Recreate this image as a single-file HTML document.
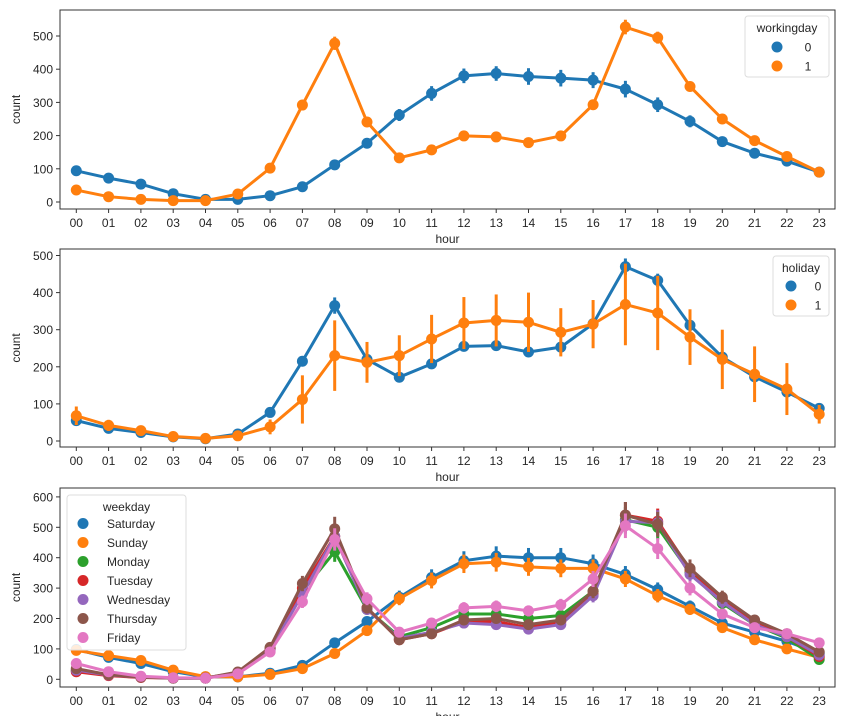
<!DOCTYPE html>
<html><head><meta charset="utf-8"><style>
body{margin:0;background:#fff;width:853px;height:716px;overflow:hidden}
svg text{font-family:"Liberation Sans","DejaVu Sans",sans-serif;fill:#262626}
</style></head><body>
<svg id="chart" width="853" height="716" xmlns="http://www.w3.org/2000/svg"></svg>
<script>
const hours=["00","01","02","03","04","05","06","07","08","09","10","11","12","13","14","15","16","17","18","19","20","21","22","23"];
const wd0=[94,72,54,25,8,8,19,46,112,177,262,327,380,387,378,373,367,340,293,243,182,147,123,90];
const wd1=[36,16,8,4,4,24,102,292,478,241,133,157,199,196,179,199,293,527,495,348,250,185,137,90];
const wd0Err=[8,6,5,4,2,2,3,6,10,12,18,22,22,22,25,25,24,25,22,18,15,12,10,8];
const wd1Err=[4,3,2,1,1,2,6,14,20,12,8,8,10,10,8,10,14,22,18,15,10,8,8,6];
const hol0=[55,34,23,11,6,19,77,215,365,220,172,208,255,257,240,253,316,470,433,312,226,173,132,88];
const hol1=[68,42,28,12,7,14,38,112,230,212,230,275,318,325,320,293,315,368,345,280,220,180,140,72];
const hol0Err=[5,4,3,2,1,2,5,12,22,12,8,10,10,10,10,10,12,22,18,12,10,8,6,6];
const hol1Err=[25,15,12,5,4,8,20,65,95,55,55,65,70,70,80,65,65,110,100,75,80,75,70,25];
const saturday=[98,72,52,25,8,8,20,46,120,190,270,335,390,405,400,400,380,345,295,240,185,155,125,85];
const sunday=[95,78,62,30,9,8,16,35,85,160,265,325,380,385,370,365,365,330,275,230,170,130,100,72];
const monday=[28,15,8,4,4,22,100,290,420,230,140,170,215,215,200,210,290,525,500,350,250,180,135,65];
const tuesday=[25,12,6,4,4,22,100,300,470,235,130,150,190,190,170,190,280,540,520,360,265,190,140,75];
const wednesday=[30,14,7,4,4,22,95,280,470,230,135,155,185,180,165,180,275,520,515,345,255,180,140,80];
const thursday=[35,15,7,4,4,24,105,315,495,235,130,150,195,200,180,195,290,540,510,365,270,195,150,90];
const friday=[52,25,10,5,4,18,90,255,460,265,155,185,235,240,225,245,330,505,430,300,215,170,150,120];
const weekdayNames=["Saturday","Sunday","Monday","Tuesday","Wednesday","Thursday","Friday"];
const yTicks1=[0,100,200,300,400,500];
const yTicks3=[0,100,200,300,400,500,600];

const NS="http://www.w3.org/2000/svg";
const svg=document.getElementById('chart');
function mk(tag,attrs,parent,txt){const e=document.createElementNS(NS,tag);for(const k in attrs)e.setAttribute(k,attrs[k]);if(txt!==undefined)e.textContent=txt;(parent||svg).appendChild(e);return e;}
const C=["#1f77b4","#ff7f0e","#2ca02c","#d62728","#9467bd","#8c564b","#e377c2"];
const L=60,R=835;
const xS=i=>76.3+i*32.3;

function panel(name,top,bottom,y0,pxPer100,ticks,series,errs,legend){
  const g=mk('g',{});
  
  
  const yS=v=>y0-v*pxPer100/100;
  ticks.forEach(t=>{
    const y=yS(t);
    mk('line',{x1:L-4,x2:L,y1:y,y2:y,stroke:'#333'},g);
    const tx=mk('text',{x:L-7,y:y+4.5,'text-anchor':'end','font-size':12},g,String(t));
    
    
  });
  hours.forEach((h,i)=>{
    const x=xS(i);
    mk('line',{x1:x,x2:x,y1:bottom,y2:bottom+4,stroke:'#333'},g);
    const tx=mk('text',{x:x,y:bottom+18,'text-anchor':'middle','font-size':12},g,h);
    
    
  });
  const xl=mk('text',{x:(L+R)/2,y:bottom+34,'text-anchor':'middle','font-size':12},g,'hour');
  
  
  const yl=mk('text',{x:0,y:0,'text-anchor':'middle','font-size':12,transform:`translate(20,${(top+bottom)/2}) rotate(-90)`},g,'count');
  
  
  series.forEach((s,k)=>{
    const col=C[k];
    const sg=mk('g',{},g);
    
    
    s.forEach((v,i)=>{
      const e=errs?errs[k][i]:Math.max(4,v*0.08);
      mk('line',{x1:xS(i),x2:xS(i),y1:yS(v-e),y2:yS(v+e),stroke:col,'stroke-width':3},sg);
    });
    mk('polyline',{points:s.map((v,i)=>xS(i)+','+yS(v)).join(' '),fill:'none',stroke:col,'stroke-width':3,'stroke-linejoin':'round'},sg);
    s.forEach((v,i)=>{
      const c=mk('circle',{cx:xS(i),cy:yS(v),r:5.5,fill:col},sg);
      
      
    });
  });
  mk('rect',{x:L,y:top,width:R-L,height:bottom-top,fill:'none',stroke:'#333','stroke-width':1},g);
  // legend
  const lg=mk('g',{},g);
  
  
  const b=legend.box;
  mk('rect',{x:b[0],y:b[1],width:b[2],height:b[3],rx:3,fill:'#fff','fill-opacity':0.85,stroke:'#ddd'},lg);
  mk('text',{x:b[0]+b[2]/2,y:b[1]+16,'text-anchor':'middle','font-size':12},lg,legend.title);
  legend.labels.forEach((lab,k)=>{
    const y=b[1]+legend.first+k*legend.step;
    mk('circle',{cx:legend.mx,cy:y,r:5.5,fill:C[k]},lg);
    const t=mk('text',{x:legend.tx,y:y+4.5,'text-anchor':legend.anchor,'font-size':12},lg,lab);
    
    
  });
}
panel('workingday',10,209,202,33.2,yTicks1,[wd0,wd1],[wd0Err,wd1Err],
  {box:[745,16,84,61],title:'workingday',labels:['0','1'],first:31,step:19,mx:777,tx:808,anchor:'middle'});
panel('holiday',249,447,441,37.1,yTicks1,[hol0,hol1],[hol0Err,hol1Err],
  {box:[773,256,56,60],title:'holiday',labels:['0','1'],first:30,step:19,mx:791,tx:818,anchor:'middle'});
panel('weekday',488,687,679.3,30.4,yTicks3,[saturday,sunday,monday,tuesday,wednesday,thursday,friday],null,
  {box:[67,495,119,155],title:'weekday',labels:weekdayNames,first:28.5,step:19,mx:83,tx:107,anchor:'start'});
</script>
</body></html>
